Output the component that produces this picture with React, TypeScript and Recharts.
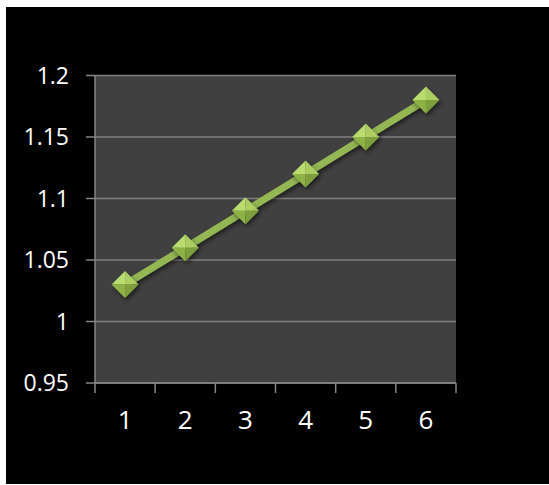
import React from "react";
import { CartesianGrid, Line, LineChart, XAxis, YAxis } from "recharts";

const categories = [1, 2, 3, 4, 5, 6];
const values = [1.03, 1.06, 1.09, 1.12, 1.15, 1.18];
const yTicks = [0.95, 1, 1.05, 1.1, 1.15, 1.2];

// tick marks sit between categories, labels sit on them
const boundaryTicks = [...categories.map((c) => c - 0.5), categories[categories.length - 1] + 0.5];
const xDomain = [boundaryTicks[0], boundaryTicks[boundaryTicks.length - 1]];

const data = categories.map((x, i) => ({ x, value: values[i] }));

const FONT = "'Open Sans', sans-serif";
const AXIS_GRAY = "#868686";

const Diamond = ({ cx, cy }: any) => {
  if (cx == null || cy == null) return null;
  const r = 13.5;
  const t = `${cx},${cy - r}`;
  const rt = `${cx + r},${cy}`;
  const b = `${cx},${cy + r}`;
  const l = `${cx - r},${cy}`;
  const c = `${cx},${cy}`;
  return (
    <g filter="url(#markerShadow)">
      <polygon points={`${l} ${t} ${c}`} fill="#b9db70" />
      <polygon points={`${t} ${rt} ${c}`} fill="#abcd62" />
      <polygon points={`${l} ${b} ${c}`} fill="#8fb247" />
      <polygon points={`${rt} ${b} ${c}`} fill="#7e9f3c" />
    </g>
  );
};

export default function App() {
  return (
    <div style={{ position: "absolute", left: 0, top: 0, width: 549, height: 485, background: "#fff" }}>
      <div style={{ position: "absolute", left: 6, top: 7, width: 543, height: 477, background: "#000" }}>
        <LineChart
          width={543}
          height={477}
          data={data}
          margin={{ top: 68.5, right: 93, left: 0, bottom: 11 }}
        >
          <defs>
            <filter id="markerShadow" x="-50%" y="-50%" width="200%" height="200%">
              <feDropShadow dx="1.5" dy="2.5" stdDeviation="2" floodColor="#000" floodOpacity="0.55" />
            </filter>
          </defs>
          <CartesianGrid
            vertical={false}
            fill="#404040"
            fillOpacity={1}
            stroke="#7f7f7f"
            strokeWidth={1.5}
          />
          <XAxis
            xAxisId="bounds"
            dataKey="x"
            type="number"
            domain={xDomain}
            ticks={boundaryTicks}
            tickFormatter={() => ""}
            tickSize={10}
            height={10}
            stroke={AXIS_GRAY}
            strokeWidth={1.5}
          />
          <XAxis
            xAxisId="labels"
            dataKey="x"
            type="number"
            domain={xDomain}
            ticks={categories}
            axisLine={false}
            tickLine={false}
            tickSize={0}
            tickMargin={18}
            height={80}
            tick={{ fill: "#fff", fontSize: 26, fontFamily: FONT }}
          />
          <YAxis
            domain={[0.95, 1.2]}
            ticks={yTicks}
            width={89}
            tickSize={9}
            tickMargin={17}
            stroke={AXIS_GRAY}
            strokeWidth={1.5}
            tick={{ fill: "#fff", fontSize: 23, fontFamily: FONT }}
          />
          <Line
            xAxisId="labels"
            dataKey="value"
            stroke="#94b653"
            strokeWidth={7}
            dot={<Diamond />}
            activeDot={false}
            filter="url(#markerShadow)"
            isAnimationActive={false}
          />
        </LineChart>
      </div>
    </div>
  );
}
